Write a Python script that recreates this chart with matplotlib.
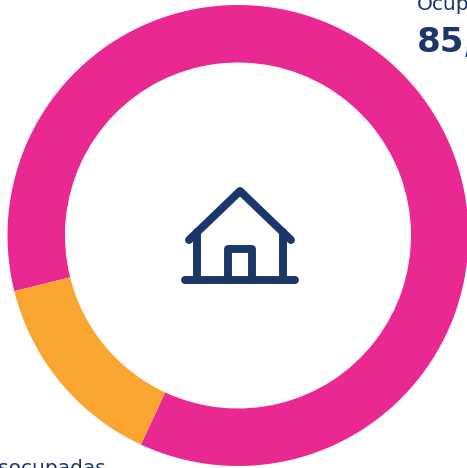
import matplotlib
matplotlib.use('Agg')
import matplotlib.pyplot as plt

labels = ['Ocupadas', 'Desocupadas']
values = [85.8, 14.2]
colors = ['#e92892', '#fba531']
navy = '#1c3668'

W, H = 467, 468

fig = plt.figure(figsize=(W / 100, H / 100), dpi=100)
ax = fig.add_axes([0, 0, 1, 1])

# orange slice ends at about 245 deg going clockwise from there
ax.pie(values, colors=colors, startangle=245.1, counterclock=True,
       center=(238, H - 235.5), radius=230.5, wedgeprops={'width': 57.5, 'linewidth': 0})
ax.set_xlim(0, W)
ax.set_ylim(0, H)
ax.set_aspect('equal')
ax.axis('off')


def py(points):
    # icon points are written in image pixels, y going down
    return [p[0] for p in points], [H - p[1] for p in points]


# house icon
lw = 5.7
icon = [
    [(189, 240), (240, 191), (291, 240)],
    [(197, 232), (197, 280)],
    [(283, 232), (283, 280)],
    [(185, 280), (295, 280)],
    [(228, 280), (228, 249), (252, 249), (252, 280)],
]
for pts in icon:
    xs, ys = py(pts)
    ax.plot(xs, ys, color=navy, lw=lw, solid_capstyle='round', solid_joinstyle='round')

ax.text(417, H - 10, labels[0], color=navy, fontsize=14.5, family='DejaVu Sans',
        va='baseline', ha='left', clip_on=False)
ax.text(417, H - 52, '85,8%', color=navy, fontsize=24.5, family='DejaVu Sans', weight='bold',
        va='baseline', ha='left', clip_on=False)
ax.text(106, H - 474, labels[1], color=navy, fontsize=14.5, family='DejaVu Sans',
        va='baseline', ha='right', clip_on=False)

plt.savefig('out.png', dpi=100)
